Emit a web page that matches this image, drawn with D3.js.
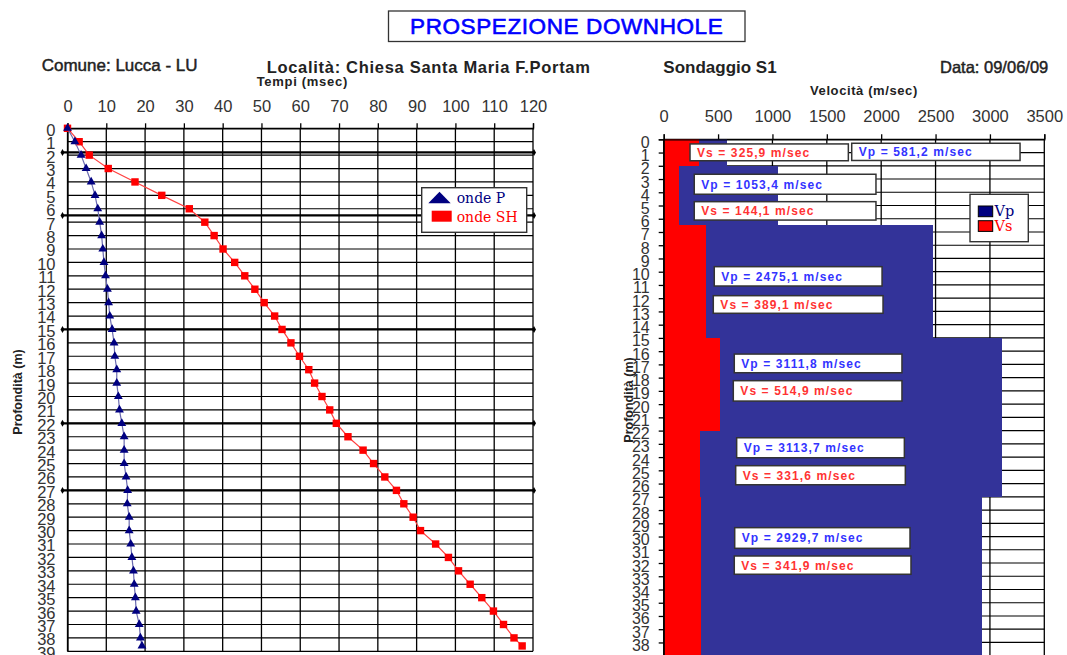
<!DOCTYPE html>
<html>
<head>
<meta charset="utf-8">
<script src="https://cdn.jsdelivr.net/npm/d3@7"></script>
<style>
  body { margin: 0; background: #fff; }
  svg { display: block; font-family: "Liberation Sans", Arial, sans-serif; }
</style>
</head>
<body>
<svg id="chart" width="1067" height="655"></svg>
<script>
// ---- data: travel times (left chart) ----
var depths = [0, 1, 2, 3, 4, 5, 6, 7, 8, 9, 10, 11, 12, 13, 14, 15, 16, 17, 18, 19,
  20, 21, 22, 23, 24, 25, 26, 27, 28, 29, 30, 31, 32, 33, 34, 35, 36, 37, 38, 38.6];
var tempiP = [0, 1.9, 3.5, 4.8, 6.1, 7.1, 7.8, 8.3, 8.8, 9.1, 9.4, 9.8, 10.3, 10.6, 10.9, 11.5,
  12.0, 12.2, 12.7, 12.7, 13.1, 13.4, 14.0, 14.6, 14.6, 14.6, 15.1, 15.5, 15.4, 15.9, 15.9,
  16.3, 16.6, 17.0, 17.2, 17.5, 17.7, 18.5, 18.8, 19.2];
var tempiSH = [0, 3.0, 5.6, 10.5, 17.4, 24.3, 31.4, 35.4, 37.8, 40.1, 43.1, 45.7, 48.3, 50.7,
  53.4, 55.3, 57.6, 59.8, 62.2, 63.7, 65.6, 67.6, 69.3, 72.3, 76.2, 78.9, 81.8, 84.8, 86.7,
  89.1, 91.0, 94.9, 98.2, 100.8, 103.8, 106.8, 109.8, 112.4, 115.1, 117.2];
var interfaceDepths = [1.8, 6.5, 15, 22, 27];

// ---- data: velocity layers (right chart) ----
var layerTop = [0, 2, 6.5, 15, 22, 27];
var layerBottom = [2, 6.5, 15, 22, 27, 39];
var vpLayer = [581.2, 1053.4, 2475.1, 3111.8, 3113.7, 2929.7];
var vsLayer = [325.9, 144.1, 389.1, 514.9, 331.6, 341.9];

// ---- tick labels ----
var timeTicks = [0, 10, 20, 30, 40, 50, 60, 70, 80, 90, 100, 110, 120];
var velTicks = [0, 500, 1000, 1500, 2000, 2500, 3000, 3500];
var depthTicksLeft = [0, 1, 2, 3, 4, 5, 6, 7, 8, 9, 10, 11, 12, 13, 14, 15, 16, 17, 18, 19,
  20, 21, 22, 23, 24, 25, 26, 27, 28, 29, 30, 31, 32, 33, 34, 35, 36, 37, 38, 39];
var depthTicksRight = depthTicksLeft.slice(0, 39);

// label box placement in chart units: [vel from, vel to, depth from, depth to]
var vpBoxAt = [[1729, 3277, 0.3, 1.6], [281, 1952, 2.64, 4.15], [465, 2008, 9.62, 11.08],
  [649, 2191, 16.22, 17.63], [671, 2213, 22.54, 24.05], [653, 2265, 29.33, 30.89]];
var vsBoxAt = [[242, 1698, 0.35, 1.62], [281, 1952, 4.71, 6.1], [456, 2017, 11.81, 13.14],
  [640, 2191, 18.23, 19.77], [662, 2222, 24.65, 26.09], [649, 2274, 31.47, 32.85]];

var svg = d3.select('#chart');
var ink = '#222';

// ---- header ----
svg.append('rect').attr('x', 388.5).attr('y', 11).attr('width', 356.5).attr('height', 30.5)
  .attr('fill', '#fff').attr('stroke', '#333').attr('stroke-width', 1.3);
svg.append('text').attr('x', 566.7).attr('y', 34.3).attr('text-anchor', 'middle')
  .attr('fill', '#0000ff').attr('stroke', '#0000ff').attr('stroke-width', 0.6)
  .style('font-size', '22.5px').style('letter-spacing', '0.6px')
  .text('PROSPEZIONE DOWNHOLE');

function header(x, y, txt, size, bold, spacing, thick) {
  var t = svg.append('text').attr('x', x).attr('y', y).attr('fill', ink)
    .style('font-size', size + 'px').style('font-weight', bold ? 'bold' : 'normal')
    .style('letter-spacing', (spacing || 0) + 'px').text(txt);
  if (thick) t.attr('stroke', ink).attr('stroke-width', thick);
}
header(41.7, 70.7, 'Comune: Lucca - LU', 17, false, 0, 0.45);
header(266.7, 72.7, 'Località:  Chiesa Santa Maria F.Portam', 16.5, true, 0.7);
header(663.3, 73, 'Sondaggio S1', 17, true);
header(940, 73, 'Data: 09/06/09', 16.5, false, 0, 0.45);
header(256.7, 86, 'Tempi (msec)', 13, true, 0.7);
header(810, 95, 'Velocità (m/sec)', 13, true, 0.6);

function yTitle(x, y) {
  svg.append('text').attr('transform', 'translate(' + x + ',' + y + ') rotate(-90)')
    .attr('text-anchor', 'middle').attr('fill', ink)
    .style('font-size', '12.5px').style('font-weight', 'bold').text('Profondità (m)');
}
yTitle(21.5, 392);
yTitle(632.5, 400);

function styleAxis(g, size, dy) {
  g.attr('font-family', null).attr('font-size', null);
  g.select('.domain').attr('stroke', '#000').attr('stroke-width', 1.3);
  g.selectAll('.tick line').attr('stroke', '#000').attr('stroke-width', 1.3);
  g.selectAll('.tick text').attr('fill', '#333').style('font-size', size + 'px');
  if (dy) g.selectAll('.tick text').attr('dy', dy);
}

// ================= LEFT CHART: travel times =================
var xT = d3.scaleLinear().domain([0, 120]).range([67.5, 533]);
var yL = d3.scaleLinear().domain([0, 39]).range([128.3, 651.3]);
var left = svg.append('g');

left.selectAll('line.hgrid').data(depthTicksLeft).enter().append('line')
  .attr('class', 'hgrid')
  .attr('x1', xT(0)).attr('x2', xT(120))
  .attr('y1', function(d) { return yL(d); }).attr('y2', function(d) { return yL(d); })
  .attr('stroke', '#000').attr('stroke-width', 1.2);

left.selectAll('line.vgrid').data(timeTicks).enter().append('line')
  .attr('class', 'vgrid')
  .attr('x1', function(d) { return xT(d); }).attr('x2', function(d) { return xT(d); })
  .attr('y1', yL(0)).attr('y2', yL(39))
  .attr('stroke', '#000').attr('stroke-width', 1.3);

left.append('g').attr('transform', 'translate(0,' + yL(0) + ')')
  .call(d3.axisTop(xT).tickValues(timeTicks).tickSize(5).tickPadding(11))
  .call(styleAxis, 16.5);

left.append('g').attr('transform', 'translate(' + xT(0) + ',0)')
  .call(d3.axisLeft(yL).tickValues(depthTicksLeft).tickSize(0).tickPadding(12))
  .call(styleAxis, 16.5, '0.42em');

// layer interfaces
var iface = left.selectAll('g.iface').data(interfaceDepths).enter().append('g')
  .attr('transform', function(d) { return 'translate(0,' + yL(d) + ')'; });
iface.append('line').attr('x1', xT(0) - 5).attr('x2', xT(120) + 1)
  .attr('stroke', '#000').attr('stroke-width', 2.2);
iface.append('path').attr('d', d3.symbol(d3.symbolDiamond).size(14))
  .attr('transform', 'translate(' + (xT(0) - 5) + ',0)').attr('fill', '#000');
iface.append('path').attr('d', d3.symbol(d3.symbolDiamond).size(14))
  .attr('transform', 'translate(' + (xT(120) + 1) + ',0)').attr('fill', '#000');

var shPts = depths.map(function(d, i) { return { d: d, t: tempiSH[i] }; });
var pPts = depths.map(function(d, i) { return { d: d, t: tempiP[i] }; });
var line = d3.line().x(function(p) { return xT(p.t); }).y(function(p) { return yL(p.d); });

left.append('path').datum(shPts).attr('d', line)
  .attr('fill', 'none').attr('stroke', '#ff4040').attr('stroke-width', 1.2);
left.selectAll('rect.sh').data(shPts).enter().append('rect')
  .attr('class', 'sh')
  .attr('x', function(p) { return xT(p.t) - 3.7; })
  .attr('y', function(p) { return yL(p.d) - 3.7; })
  .attr('width', 7.4).attr('height', 7.4).attr('fill', '#ff0000');

left.append('path').datum(pPts).attr('d', line)
  .attr('fill', 'none').attr('stroke', '#6b6bb0').attr('stroke-width', 1.2);
left.selectAll('path.p').data(pPts).enter().append('path')
  .attr('class', 'p')
  .attr('d', d3.symbol(d3.symbolTriangle).size(34))
  .attr('transform', function(p) { return 'translate(' + xT(p.t) + ',' + yL(p.d) + ')'; })
  .attr('fill', '#000080');

// left legend
var lg = left.append('g');
lg.append('rect').attr('x', 421.7).attr('y', 187.7).attr('width', 105).attr('height', 44.6)
  .attr('fill', '#fff').attr('stroke', '#333').attr('stroke-width', 1.4);
lg.append('path').attr('d', 'M428.3,203.3L439.5,191.7L450.7,203.3Z').attr('fill', '#000080');
lg.append('rect').attr('x', 431.7).attr('y', 210.7).attr('width', 20).attr('height', 11)
  .attr('fill', '#ff0000');
lg.append('text').attr('x', 456.7).attr('y', 203).attr('fill', '#000080')
  .style('font-family', '"DejaVu Serif", serif').style('font-size', '14px').text('onde P');
lg.append('text').attr('x', 456.7).attr('y', 221.5).attr('fill', '#ff0000')
  .style('font-family', '"DejaVu Serif", serif').style('font-size', '14px').text('onde SH');

// ================= RIGHT CHART: velocities =================
var xV = d3.scaleLinear().domain([0, 3500]).range([663.7, 1044.3]);
var yR = d3.scaleLinear().domain([0, 39]).range([139.3, 655.7]);
var right = svg.append('g');

right.selectAll('line.hgrid').data(depthTicksLeft).enter().append('line')
  .attr('x1', xV(0)).attr('x2', xV(3500))
  .attr('y1', function(d) { return yR(d); }).attr('y2', function(d) { return yR(d); })
  .attr('stroke', '#000').attr('stroke-width', 1.2);
right.selectAll('line.vgrid').data(velTicks).enter().append('line')
  .attr('x1', function(d) { return xV(d); }).attr('x2', function(d) { return xV(d); })
  .attr('y1', yR(0)).attr('y2', yR(39))
  .attr('stroke', '#000').attr('stroke-width', 1.3);

var layers = layerTop.map(function(t, i) {
  return { top: t, bottom: layerBottom[i], vp: vpLayer[i], vs: vsLayer[i] };
});
right.selectAll('rect.vp').data(layers).enter().append('rect')
  .attr('x', xV(0)).attr('y', function(l) { return yR(l.top); })
  .attr('width', function(l) { return xV(l.vp) - xV(0); })
  .attr('height', function(l) { return yR(l.bottom) - yR(l.top); })
  .attr('fill', '#333399').attr('shape-rendering', 'crispEdges');
right.selectAll('rect.vs').data(layers).enter().append('rect')
  .attr('x', xV(0)).attr('y', function(l) { return yR(l.top); })
  .attr('width', function(l) { return xV(l.vs) - xV(0); })
  .attr('height', function(l) { return yR(l.bottom) - yR(l.top); })
  .attr('fill', '#ff0000').attr('shape-rendering', 'crispEdges');

right.append('g').attr('transform', 'translate(0,' + yR(0) + ')')
  .call(d3.axisTop(xV).tickValues(velTicks).tickFormat(d3.format('d')).tickSize(5).tickPadding(12.6))
  .call(styleAxis, 16.5);
right.append('g').attr('transform', 'translate(' + xV(0) + ',0)')
  .call(d3.axisLeft(yR).tickValues(depthTicksRight).tickSize(5).tickPadding(9))
  .call(styleAxis, 16, '0.5em');

function fmt(v) { return v.toFixed(1).replace('.', ','); }

function labelBox(at, txt, color) {
  var g = right.append('g');
  g.append('rect').attr('x', xV(at[0])).attr('y', yR(at[2]))
    .attr('width', xV(at[1]) - xV(at[0])).attr('height', yR(at[3]) - yR(at[2]))
    .attr('fill', '#fff').attr('stroke', '#333').attr('stroke-width', 1.5);
  g.append('text').attr('x', xV(at[0]) + 7).attr('y', (yR(at[2]) + yR(at[3])) / 2 + 4.5)
    .attr('fill', color).style('font-size', '12px').style('font-weight', 'bold')
    .style('letter-spacing', '1.1px').text(txt);
}
layers.forEach(function(l, i) {
  labelBox(vpBoxAt[i], 'Vp = ' + fmt(l.vp) + ' m/sec', '#3333ff');
  labelBox(vsBoxAt[i], 'Vs = ' + fmt(l.vs) + ' m/sec', '#ff3333');
});

// right legend
var rg = right.append('g');
rg.append('rect').attr('x', 970).attr('y', 194.3).attr('width', 58.3).attr('height', 47.4)
  .attr('fill', '#fff').attr('stroke', '#333').attr('stroke-width', 1.4);
rg.append('rect').attr('x', 978.3).attr('y', 206).attr('width', 14.4).attr('height', 10.7)
  .attr('fill', '#000080').attr('stroke', '#000').attr('stroke-width', 1);
rg.append('rect').attr('x', 978.3).attr('y', 220.7).attr('width', 14.4).attr('height', 10.7)
  .attr('fill', '#ff0000').attr('stroke', '#000').attr('stroke-width', 1);
rg.append('text').attr('x', 994.5).attr('y', 215.5).attr('fill', '#000080')
  .style('font-family', '"DejaVu Serif", serif').style('font-size', '14.5px').text('Vp');
rg.append('text').attr('x', 994.5).attr('y', 230.5).attr('fill', '#ff0000')
  .style('font-family', '"DejaVu Serif", serif').style('font-size', '14.5px').text('Vs');
</script>
</body>
</html>
